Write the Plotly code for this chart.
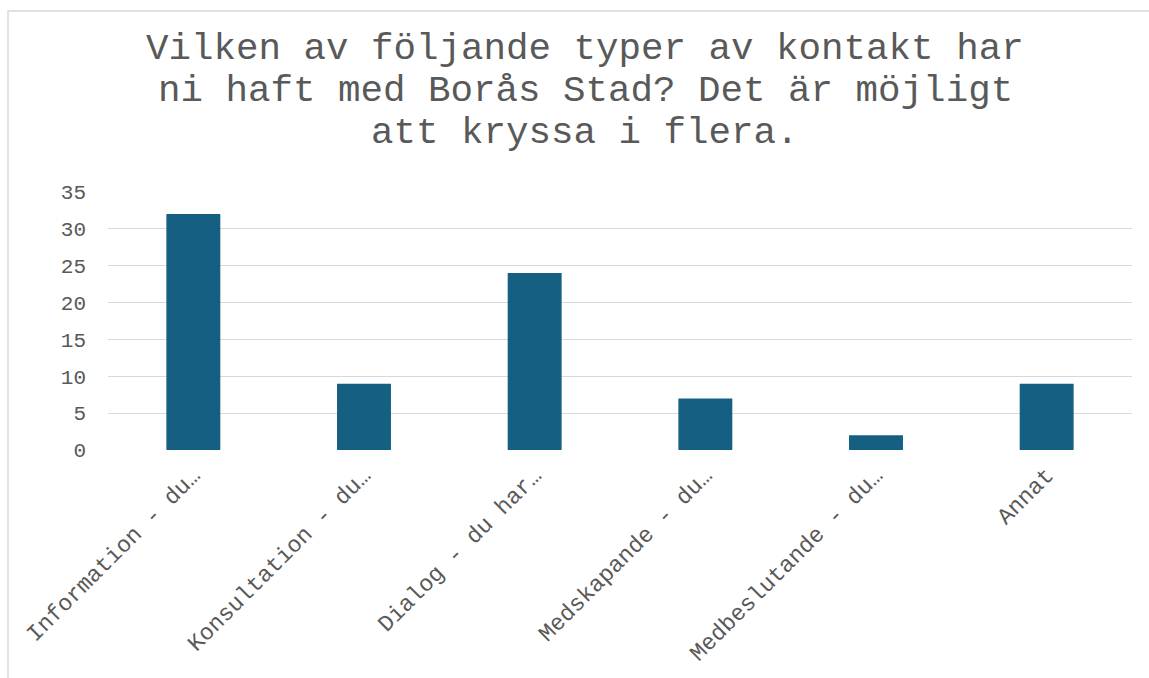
import plotly.graph_objects as go

categories = ["Information - du…", "Konsultation - du…", "Dialog - du har…",
              "Medskapande - du…", "Medbeslutande - du…", "Annat"]
values = [32, 9, 24, 7, 2, 9]
title_lines = ["Vilken av följande typer av kontakt har",
               "ni haft med Borås Stad? Det är möjligt",
               "att kryssa i flera."]

W, H = 1149, 678
L, R, T, B = 108, 17, 192, 228
pw, ph = W - L - R, H - T - B

font_family = "Liberation Mono, Courier New, monospace"
text_color = "#595959"

fig = go.Figure(go.Bar(x=categories, y=values, marker_color="#156082",
                       marker_line_width=0, width=0.316))

fig.update_layout(
    width=W, height=H,
    margin=dict(l=L, r=R, t=T, b=B),
    paper_bgcolor="white", plot_bgcolor="white",
    showlegend=False,
    font=dict(family=font_family, color=text_color),
)

# title, one annotation per line to match the original line spacing
for i, line in enumerate(title_lines):
    cy = 49 + 42 * i
    fig.add_annotation(text=line, xref="paper", yref="paper",
                       x=(585 - L) / pw, y=(H - B - cy) / ph,
                       xanchor="center", yanchor="middle", showarrow=False,
                       font=dict(family=font_family, size=37.5, color=text_color))

fig.update_yaxes(range=[0, 35], dtick=5, showgrid=True, gridcolor="#d9d9d9",
                 gridwidth=1, zeroline=False, showline=False,
                 tickfont=dict(family=font_family, size=21, color=text_color),
                 ticklabelstandoff=21, fixedrange=True)
fig.update_xaxes(tickangle=-45, showline=False, showgrid=False,
                 tickfont=dict(family=font_family, size=23, color=text_color),
                 ticklabelstandoff=6, fixedrange=True)

# chart border (extends past the right/bottom edges, as in the reference)
fig.add_shape(type="rect", xref="paper", yref="paper",
              x0=(8 - L) / pw, x1=(W + 20 - L) / pw,
              y0=(H - B - (H + 20)) / ph, y1=(H - B - 11) / ph,
              line=dict(color="#d9d9d9", width=1.5), fillcolor="rgba(0,0,0,0)",
              layer="below")

fig.write_html("out.html", config={"displayModeBar": False},
               post_script="document.body.style.margin='0';document.body.style.overflow='hidden';")
